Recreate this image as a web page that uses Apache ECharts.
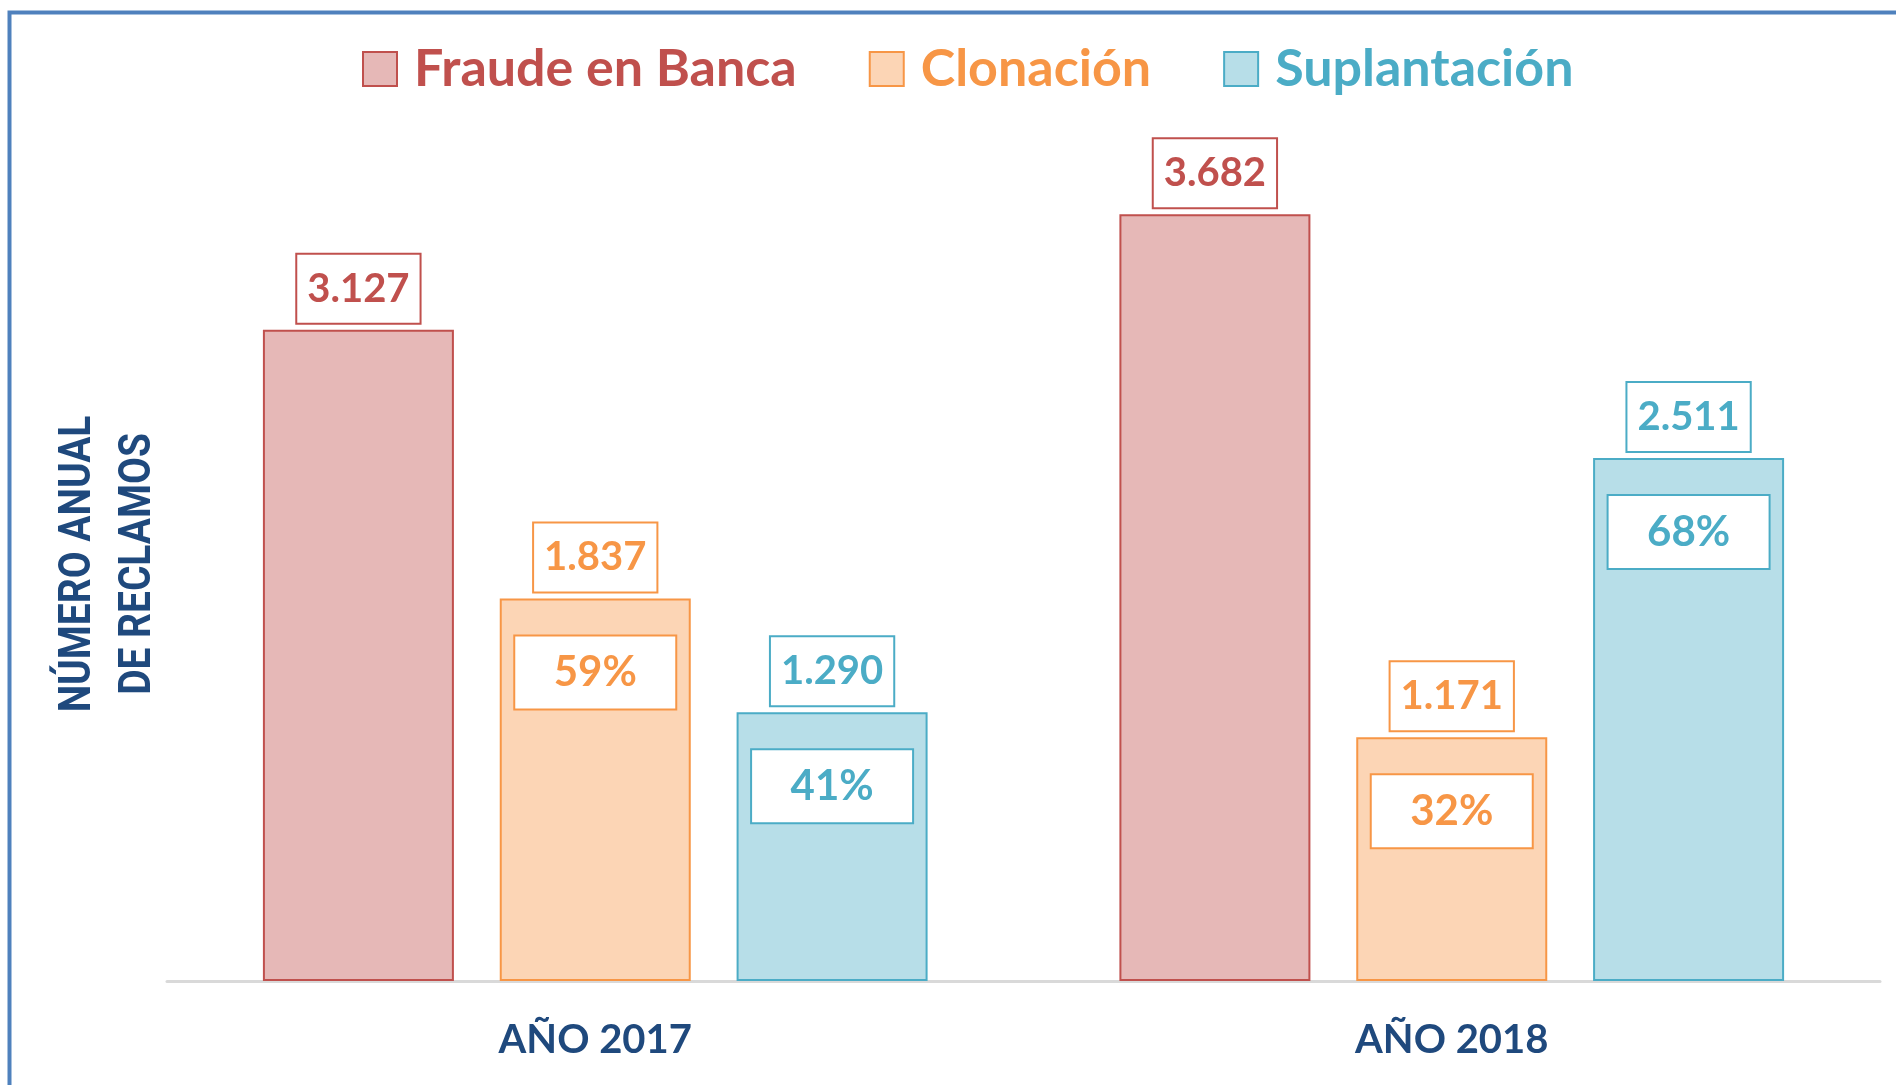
<!DOCTYPE html>
<html>
<head>
<meta charset="utf-8">
<title>Reclamos</title>
<script src="https://cdn.jsdelivr.net/npm/echarts@6/dist/echarts.min.js"></script>
<style>
  html, body { margin: 0; padding: 0; background: #fff; }
  #main { width: 1896px; height: 1085px; }
</style>
</head>
<body>
<div id="main"></div>
<script>
var categories = ['AÑO 2017', 'AÑO 2018'];
var fraude = [3127, 3682];
var clonacion = [1837, 1171];
var suplantacion = [1290, 2511];
var pctClonacion = ['59%', '32%'];
var pctSuplantacion = ['41%', '68%'];

var FONT = 'Lato';
// colores de cada serie: relleno, borde/texto
var colFraude = { fill: '#e6b8b7', line: '#c0504d' };
var colClon = { fill: '#fcd5b5', line: '#f79646' };
var colSupl = { fill: '#b7dee8', line: '#4bacc6' };

function miles(v) {
    return String(v).replace(/\B(?=(\d{3})+(?!\d))/g, '.');
}

function boxStyle(c) {
    return {
        color: c.line,
        fontFamily: FONT,
        fontWeight: 'bold',
        fontSize: 40,
        backgroundColor: '#fff',
        borderColor: c.line,
        borderWidth: 2
    };
}

function barSerie(name, data, c, pct) {
    var s = {
        name: name,
        type: 'bar',
        data: data,
        barWidth: 191,
        barGap: '24%',
        itemStyle: { color: c.fill, borderColor: c.line, borderWidth: 2 }
    };
    if (!pct) {
        s.label = Object.assign({ show: true, position: 'top', distance: 7,
            lineHeight: 44, padding: [12, 10],
            formatter: function(p) { return miles(p.value); } }, boxStyle(c));
    } else {
        // caja con el valor arriba de la barra y caja con el % dentro
        var v = boxStyle(c);
        v.height = 44;
        v.lineHeight = 68;
        v.padding = [12, 10];
        var p = boxStyle(c);
        p.fontSize = 42;
        p.width = 140;
        p.height = 44;
        p.lineHeight = 72;
        p.align = 'center';
        p.padding = [14, 10];
        s.label = {
            show: true,
            position: 'insideTop',
            distance: 0,
            offset: [0, -75],
            formatter: function(d) {
                return '{v|' + miles(d.value) + '}\n{g| }\n{p|' + pct[d.dataIndex] + '}';
            },
            rich: {
                v: v,
                g: { fontSize: 10, height: 45, lineHeight: 45 },
                p: p
            }
        };
    }
    return s;
}

var chart = echarts.init(document.getElementById('main'));
chart.setOption({
    animation: false,
    backgroundColor: '#fff',
    grid: { left: 167, right: 16, top: 148, bottom: 104 },
    legend: {
        left: 357,
        top: 38,
        itemWidth: 34,
        itemHeight: 34,
        itemGap: 72,
        icon: 'rect',
        textStyle: { fontFamily: FONT, fontWeight: 'bold', fontSize: 52, lineHeight: 52, padding: [0, 0, 0, 12] },
        data: [
            { name: 'Fraude en Banca', textStyle: { color: colFraude.line },
              itemStyle: { color: colFraude.fill, borderColor: colFraude.line, borderWidth: 2 } },
            { name: 'Clonación', textStyle: { color: colClon.line },
              itemStyle: { color: colClon.fill, borderColor: colClon.line, borderWidth: 2 } },
            { name: 'Suplantación', textStyle: { color: colSupl.line },
              itemStyle: { color: colSupl.fill, borderColor: colSupl.line, borderWidth: 2 } }
        ]
    },
    xAxis: {
        type: 'category',
        data: categories,
        axisLine: { lineStyle: { color: '#d9d9d9', width: 3 } },
        axisTick: { show: false },
        axisLabel: { color: '#1f497d', fontFamily: FONT, fontWeight: 'bold', fontSize: 40, margin: 39 }
    },
    yAxis: {
        type: 'value',
        min: 0,
        max: 4000,
        show: false
    },
    graphic: [
        {
            type: 'rect',
            silent: true,
            shape: { x: 9.5, y: 12.5, width: 2000, height: 2000 },
            style: { fill: 'none', stroke: '#4f81bd', lineWidth: 4 }
        },
        {
            type: 'text',
            x: 109,
            y: 564,
            rotation: Math.PI / 2,
            scaleX: 0.885,
            style: {
                text: 'NÚMERO ANUAL\nDE RECLAMOS',
                fill: '#1f497d',
                font: 'bold 44px Roboto, sans-serif',
                lineHeight: 60,
                align: 'center',
                verticalAlign: 'middle'
            }
        }
    ],
    series: [
        barSerie('Fraude en Banca', fraude, colFraude, null),
        barSerie('Clonación', clonacion, colClon, pctClonacion),
        barSerie('Suplantación', suplantacion, colSupl, pctSuplantacion)
    ]
});
</script>
</body>
</html>
